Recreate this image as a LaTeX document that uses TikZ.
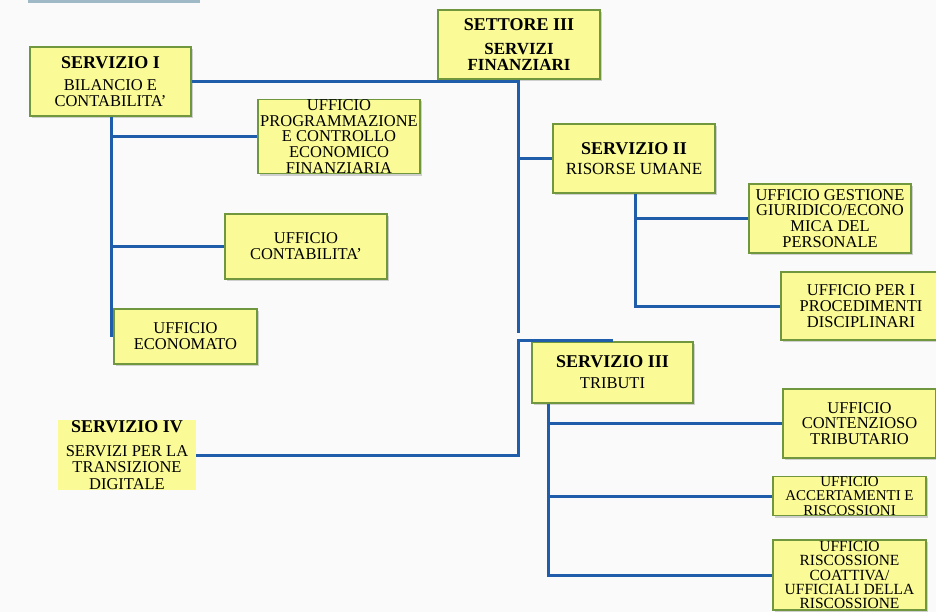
\documentclass[tikz,border=0pt]{standalone}
\usepackage{fontspec}
\setmainfont{Liberation Serif}
\usetikzlibrary{shadows}
\definecolor{boxfill}{RGB}{250,250,150}
\definecolor{boxline}{RGB}{112,150,62}
\definecolor{conn}{RGB}{31,92,170}
\definecolor{bg}{RGB}{250,250,250}
\definecolor{topstrip}{RGB}{160,185,198}
\newcommand{\ttl}[1]{{\fontsize{18}{20}\selectfont\bfseries #1}}
\begin{document}
\begin{tikzpicture}[x=1pt,y=-1pt,
  orgbox/.style={rectangle, draw=boxline, line width=1.4pt, fill=boxfill,
    inner sep=0pt, align=center,
    drop shadow={shadow xshift=2pt, shadow yshift=-2pt, opacity=0.35, fill=gray},
    font=\fontsize{16.5}{15.8}\selectfont},
  plainbox/.style={rectangle, fill=boxfill, inner sep=0pt, align=center,
    font=\fontsize{16.5}{16.5}\selectfont},
  link/.style={draw=conn, line width=3pt}]
\useasboundingbox (0,0) rectangle (936,612);
\fill[bg] (0,0) rectangle (936,612);
\fill[topstrip] (28,0) rectangle (200,3);

% boxes
\node[orgbox, minimum width=162pt, minimum height=69pt] (settore) at (519,44.5)
  {\ttl{SETTORE III}\\[8pt]{\fontsize{17}{20}\selectfont\bfseries SERVIZI}\\{\fontsize{17}{20}\selectfont\bfseries FINANZIARI}};
\node[orgbox, minimum width=161pt, minimum height=69pt] (s1) at (110.5,81.5)
  {\ttl{SERVIZIO I}\\[6pt]BILANCIO E\\CONTABILITA'};
\node[orgbox, minimum width=162pt, minimum height=69pt] (prog) at (339,136.5)
  {UFFICIO\\PROGRAMMAZIONE\\E CONTROLLO\\ECONOMICO\\FINANZIARIA};
\node[orgbox, minimum width=162pt, minimum height=65pt] (contab) at (306,246.5)
  {UFFICIO\\CONTABILITA'};
\node[orgbox, minimum width=143pt, minimum height=55pt] (econ) at (185.5,336.5)
  {UFFICIO\\ECONOMATO};
\node[plainbox, minimum width=138pt, minimum height=70pt] (s4) at (127,455)
  {\ttl{SERVIZIO IV}\\[7pt]SERVIZI PER LA\\TRANSIZIONE\\DIGITALE};
\node[orgbox, minimum width=162pt, minimum height=69pt] (s2) at (634,158.5)
  {\ttl{SERVIZIO II}\\[4pt]{\fontsize{17}{18}\selectfont RISORSE UMANE}};
\node[orgbox, minimum width=162pt, minimum height=69pt] (gest) at (830,218.5)
  {UFFICIO GESTIONE\\GIURIDICO/ECONO\\MICA DEL\\PERSONALE};
\node[orgbox, minimum width=160pt, minimum height=68pt] (peri) at (861,306)
  {UFFICIO PER I\\PROCEDIMENTI\\DISCIPLINARI};
\node[orgbox, minimum width=161pt, minimum height=61pt] (s3) at (612.5,372.5)
  {\ttl{SERVIZIO III}\\[5pt]TRIBUTI};
\node[orgbox, minimum width=153pt, minimum height=69pt] (cont) at (859.5,423.5)
  {UFFICIO\\CONTENZIOSO\\TRIBUTARIO};
\node[orgbox, minimum width=153pt, minimum height=38pt, font=\fontsize{15}{14.5}\selectfont] (acc) at (849.5,496)
  {UFFICIO\\ACCERTAMENTI E\\RISCOSSIONI};
\node[orgbox, minimum width=153pt, minimum height=70pt, font=\fontsize{15.5}{14.4}\selectfont] (risc) at (849.5,575)
  {UFFICIO\\RISCOSSIONE\\COATTIVA/\\UFFICIALI DELLA\\RISCOSSIONE};

% coordinates of the trunks
\coordinate (t1) at (518,333);
\coordinate (t2) at (518,340);
\coordinate (t2e) at (613,340);
\coordinate (v1) at (111,337);
\coordinate (v2) at (635,306);
\coordinate (v3) at (548,575);

% main trunk
\draw[link] (s1.east) -- (s1.east -| t1);
\draw[link] (t1 |- settore.south) -- (t1);
\draw[link] (t1 |- s2.west) -- (s2.west);

% servizio I
\draw[link] (v1 |- s1.south) -- (v1);
\draw[link] (v1 |- prog.west) -- (prog.west);
\draw[link] (v1 |- contab.west) -- (contab.west);

% servizio II
\draw[link] (v2 |- s2.south) -- (v2) -- (peri.west);
\draw[link] (v2 |- gest.west) -- (gest.west);

% lower trunk, servizio IV and III
\draw[link] (s4.east) -- (s4.east -| t2) -- (t2) -- (t2e);

% servizio III
\draw[link] (v3 |- s3.south) -- (v3) -- (risc.west);
\draw[link] (v3 |- cont.west) -- (cont.west);
\draw[link] (v3 |- acc.west) -- (acc.west);
\end{tikzpicture}
\end{document}
